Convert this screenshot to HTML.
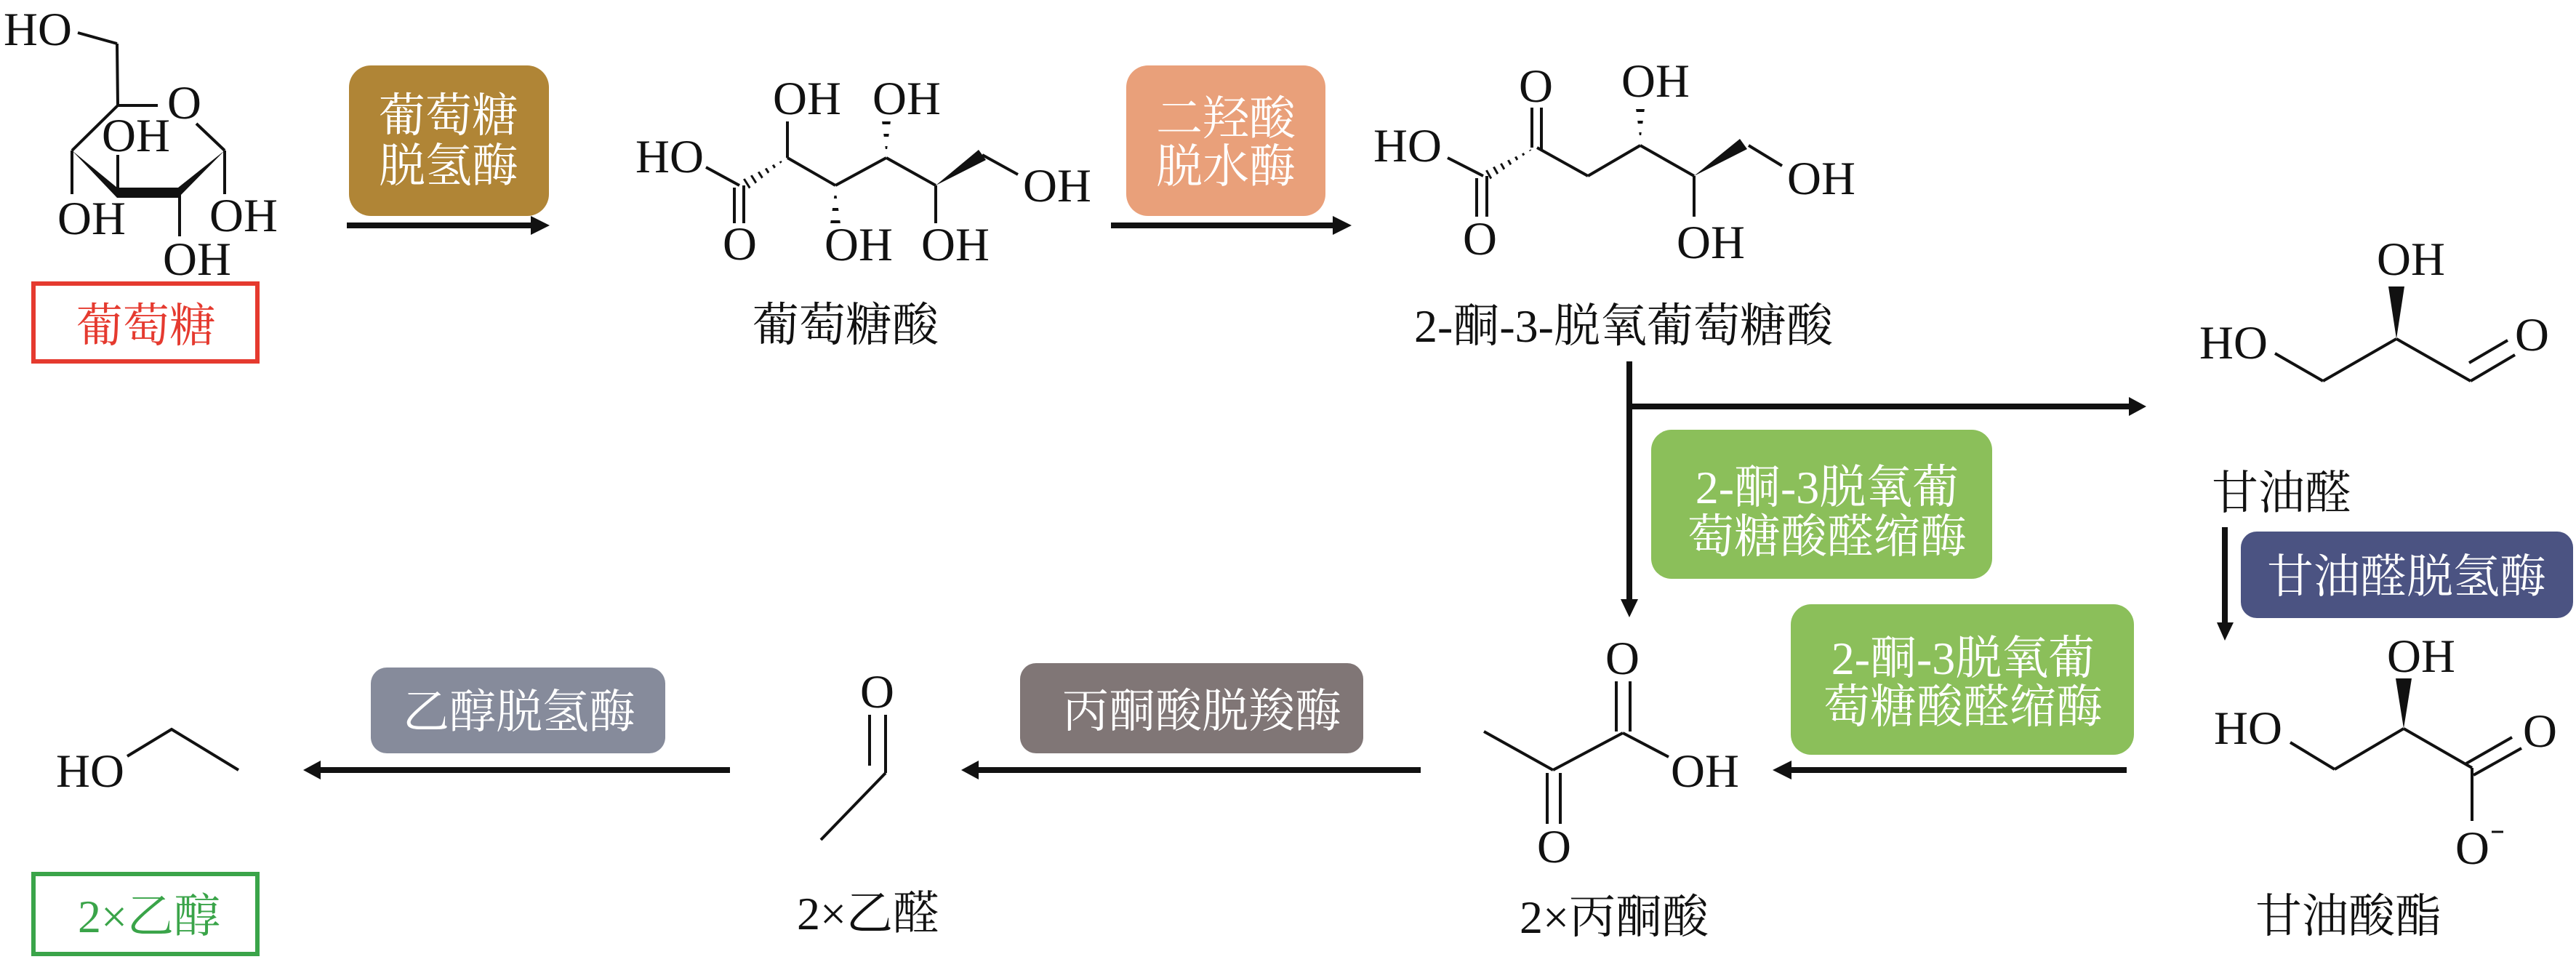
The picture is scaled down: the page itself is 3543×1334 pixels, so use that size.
<!DOCTYPE html>
<html>
<head>
<meta charset="utf-8">
<style>
html,body{margin:0;padding:0;background:#fff;}
svg{display:block;}
.t{font-family:"Liberation Serif","Noto Serif CJK SC",serif;font-size:65px;fill:#111;}
.c{font-family:"Liberation Serif","Noto Serif CJK SC",serif;font-size:64px;fill:#111;}
.w{fill:#fff;}
</style>
</head>
<body>
<svg width="3543" height="1334" viewBox="0 0 3543 1334" xmlns="http://www.w3.org/2000/svg">
<defs>
<clipPath id="h1"><polygon points="1018.7,248.2 1027.3,261.8 1083,217"/></clipPath>
<clipPath id="h2"><polygon points="1149,258 1142,308 1156,308"/></clipPath>
<clipPath id="h3"><polygon points="1219,214 1213,166 1225,166"/></clipPath>
<clipPath id="h4"><polygon points="2040.5,236 2047.5,248 2111,203"/></clipPath>
<clipPath id="h5"><polygon points="2256,195 2250,149 2262,149"/></clipPath>
</defs>
<g stroke="#111" stroke-width="4" fill="none" stroke-linecap="butt">
<!-- Glucose -->
<line x1="107" y1="45" x2="161" y2="60"/>
<line x1="161" y1="60" x2="162" y2="145"/>
<line x1="162" y1="145" x2="217" y2="145"/>
<line x1="270" y1="170" x2="309" y2="207"/>
<line x1="162" y1="145" x2="99" y2="207"/>
<line x1="99" y1="207" x2="99" y2="267"/>
<line x1="309" y1="207" x2="309" y2="267"/>
<line x1="162" y1="265" x2="162" y2="213"/>
<line x1="247" y1="267" x2="247" y2="325"/>
<!-- Gluconic acid -->
<line x1="971" y1="230" x2="1017" y2="255"/>
<line x1="1010" y1="258" x2="1010" y2="307"/>
<line x1="1023" y1="255" x2="1023" y2="307"/>
<line x1="1083" y1="217" x2="1083" y2="167"/>
<line x1="1083" y1="217" x2="1149" y2="255"/>
<line x1="1149" y1="255" x2="1219" y2="217"/>
<line x1="1219" y1="217" x2="1287" y2="255"/>
<line x1="1287" y1="255" x2="1287" y2="307"/>
<line x1="1351" y1="213" x2="1400" y2="240"/>
<!-- KDG -->
<line x1="1991" y1="217" x2="2040" y2="242"/>
<line x1="2031" y1="245" x2="2031" y2="298"/>
<line x1="2045" y1="242" x2="2045" y2="298"/>
<line x1="2107" y1="148" x2="2107" y2="203"/>
<line x1="2120" y1="148" x2="2120" y2="207"/>
<line x1="2114" y1="203" x2="2184" y2="242"/>
<line x1="2184" y1="242" x2="2256" y2="200"/>
<line x1="2256" y1="200" x2="2330" y2="242"/>
<line x1="2330" y1="242" x2="2330" y2="298"/>
<line x1="2405" y1="200" x2="2451" y2="228"/>
<!-- Glyceraldehyde -->
<line x1="3129" y1="486" x2="3195" y2="524"/>
<line x1="3195" y1="524" x2="3296" y2="466"/>
<line x1="3296" y1="466" x2="3398" y2="524"/>
<line x1="3398" y1="524" x2="3459" y2="488"/>
<line x1="3396" y1="499" x2="3449" y2="468"/>
<!-- Glycerate -->
<line x1="3150" y1="1021" x2="3211" y2="1058"/>
<line x1="3211" y1="1058" x2="3306" y2="1002"/>
<line x1="3306" y1="1002" x2="3400" y2="1056"/>
<line x1="3392" y1="1050" x2="3455" y2="1014"/>
<line x1="3402" y1="1066" x2="3468" y2="1029"/>
<line x1="3400" y1="1056" x2="3400" y2="1129"/>
<line x1="3427" y1="1144" x2="3443" y2="1144" stroke-width="3"/>
<!-- Pyruvate -->
<line x1="2223" y1="937" x2="2223" y2="1006"/>
<line x1="2242" y1="937" x2="2242" y2="1006"/>
<line x1="2232" y1="1008" x2="2295" y2="1041"/>
<line x1="2232" y1="1008" x2="2136" y2="1059"/>
<line x1="2136" y1="1059" x2="2041" y2="1006"/>
<line x1="2128" y1="1063" x2="2128" y2="1133"/>
<line x1="2146" y1="1063" x2="2146" y2="1133"/>
<!-- Acetaldehyde -->
<line x1="1196" y1="983" x2="1196" y2="1053"/>
<line x1="1218" y1="983" x2="1218" y2="1063"/>
<line x1="1218" y1="1063" x2="1129" y2="1155"/>
<!-- Ethanol -->
<polyline points="175,1040 236,1003 328,1059"/>
</g>
<!-- hashed bonds -->
<g stroke="#111" fill="none">
<line x1="1026" y1="253" x2="1083" y2="217" stroke-width="20" stroke-dasharray="3 8" clip-path="url(#h1)"/>
<line x1="1149" y1="307" x2="1149" y2="258" stroke-width="20" stroke-dasharray="4 13" clip-path="url(#h2)"/>
<line x1="1219" y1="167" x2="1219" y2="214" stroke-width="20" stroke-dasharray="4 13" clip-path="url(#h3)"/>
<line x1="2046" y1="240" x2="2111" y2="203" stroke-width="20" stroke-dasharray="3 8" clip-path="url(#h4)"/>
<line x1="2256" y1="150" x2="2256" y2="195" stroke-width="20" stroke-dasharray="4 12" clip-path="url(#h5)"/>
</g>
<!-- wedges -->
<g fill="#111">
<polygon points="99,207 161,258 161,272"/>
<rect x="161" y="258" width="86" height="14"/>
<polygon points="245,258 245,272 309,207"/>
<polygon points="1287,255 1346,206 1356,220"/>
<polygon points="2330,242 2393,191 2403,205"/>
<polygon points="3296,466 3285,394 3307,394"/>
<polygon points="3306,1002 3295,933 3317,933"/>
</g>
<!-- Atom labels -->
<g class="t">
<text x="5" y="62">HO</text>
<text x="230" y="163">O</text>
<text x="79" y="322">OH</text>
<text x="140" y="208">OH</text>
<text x="288" y="318">OH</text>
<text x="224" y="378">OH</text>

<text x="874" y="237">HO</text>
<text x="994" y="357">O</text>
<text x="1063" y="157">OH</text>
<text x="1134" y="358">OH</text>
<text x="1200" y="157">OH</text>
<text x="1267" y="358">OH</text>
<text x="1407" y="277">OH</text>

<text x="1889" y="222">HO</text>
<text x="2012" y="350">O</text>
<text x="2089" y="140">O</text>
<text x="2230" y="133">OH</text>
<text x="2306" y="355">OH</text>
<text x="2458" y="267">OH</text>

<text x="3025" y="493">HO</text>
<text x="3269" y="378">OH</text>
<text x="3459" y="482">O</text>

<text x="3283" y="924">OH</text>
<text x="3045" y="1023">HO</text>
<text x="3470" y="1027">O</text>
<text x="3377" y="1188">O</text>

<text x="2208" y="927">O</text>
<text x="2298" y="1082">OH</text>
<text x="2114" y="1186">O</text>

<text x="1183" y="973">O</text>
<text x="77" y="1082">HO</text>
</g>
<!-- Compound names -->
<rect x="46" y="390" width="308" height="107" fill="none" stroke="#e53a2f" stroke-width="6"/>
<text class="c" x="201" y="470" text-anchor="middle" style="fill:#e53a2f">葡萄糖</text>
<text class="c" x="1163" y="469" text-anchor="middle">葡萄糖酸</text>
<text class="c" x="2233" y="470" text-anchor="middle">2-酮-3-脱氧葡萄糖酸</text>
<text class="c" x="3138" y="700" text-anchor="middle">甘油醛</text>
<text class="c" x="3230" y="1282" text-anchor="middle">甘油酸酯</text>
<text class="c" x="2220" y="1283" text-anchor="middle">2×丙酮酸</text>
<text class="c" x="1194" y="1278" text-anchor="middle">2×乙醛</text>
<rect x="46" y="1202" width="308" height="110" fill="none" stroke="#3aa449" stroke-width="6"/>
<text class="c" x="205" y="1282" text-anchor="middle" style="fill:#3aa449">2×乙醇</text>

<!-- Enzyme boxes -->
<rect x="480" y="90" width="275" height="207" rx="30" fill="#b08536"/>
<text class="c w" x="617" y="181" text-anchor="middle">葡萄糖</text>
<text class="c w" x="617" y="250" text-anchor="middle">脱氢酶</text>

<rect x="1549" y="90" width="274" height="207" rx="30" fill="#e9a07a"/>
<text class="c w" x="1686" y="185" text-anchor="middle">二羟酸</text>
<text class="c w" x="1686" y="251" text-anchor="middle">脱水酶</text>

<rect x="2271" y="591" width="469" height="205" rx="28" fill="#8bbf5a"/>
<text class="c w" x="2513" y="692" text-anchor="middle">2-酮-3脱氧葡</text>
<text class="c w" x="2513" y="760" text-anchor="middle">萄糖酸醛缩酶</text>

<rect x="2463" y="831" width="472" height="207" rx="28" fill="#8bbf5a"/>
<text class="c w" x="2700" y="927" text-anchor="middle">2-酮-3脱氧葡</text>
<text class="c w" x="2700" y="994" text-anchor="middle">萄糖酸醛缩酶</text>

<rect x="3082" y="731" width="457" height="119" rx="22" fill="#4b5382"/>
<text class="c w" x="3310" y="815" text-anchor="middle">甘油醛脱氢酶</text>

<rect x="1403" y="912" width="472" height="124" rx="22" fill="#807676"/>
<text class="c w" x="1653" y="1000" text-anchor="middle">丙酮酸脱羧酶</text>

<rect x="510" y="918" width="405" height="118" rx="22" fill="#868b9b"/>
<text class="c w" x="714" y="1001" text-anchor="middle">乙醇脱氢酶</text>

<!-- Arrows -->
<g stroke="#111" stroke-width="8" fill="none">
<line x1="477" y1="310" x2="735" y2="310"/>
<line x1="1528" y1="310" x2="1838" y2="310"/>
<line x1="2241" y1="497" x2="2241" y2="830"/>
<line x1="2237" y1="559" x2="2932" y2="559"/>
<line x1="3060" y1="725" x2="3060" y2="862"/>
<line x1="2458" y1="1059" x2="2925" y2="1059"/>
<line x1="1340" y1="1059" x2="1954" y2="1059"/>
<line x1="435" y1="1059" x2="1004" y2="1059"/>
</g>
<g fill="#111">
<polygon points="730,297 756,310 730,323"/>
<polygon points="1833,297 1859,310 1833,323"/>
<polygon points="2229,824 2253,824 2241,849"/>
<polygon points="2928,546 2952,559 2928,572"/>
<polygon points="3049,856 3072,856 3060,881"/>
<polygon points="2464,1046 2438,1059 2464,1072"/>
<polygon points="1346,1046 1322,1059 1346,1072"/>
<polygon points="441,1046 417,1059 441,1072"/>
</g>
</svg>
</body>
</html>
